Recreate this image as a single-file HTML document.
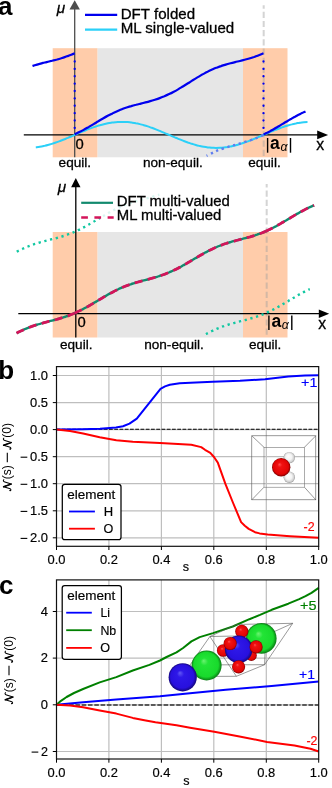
<!DOCTYPE html>
<html><head><meta charset="utf-8"><title>figure</title>
<style>html,body{margin:0;padding:0;background:#fff;}svg{display:block;will-change:transform;}text{white-space:pre;}</style>
</head><body>
<svg width="332" height="788" viewBox="0 0 332 788">
<rect x="97.4" y="48.2" width="145.6" height="109.1" fill="#e6e6e6"/>
<rect x="52.7" y="48.2" width="44.7" height="109.1" fill="#ffccaa"/>
<rect x="243" y="48.2" width="44.5" height="109.1" fill="#ffccaa"/>
<line x1="263.7" y1="5.2" x2="263.7" y2="157.3" stroke="#a0a0a0" stroke-opacity="0.45" stroke-width="2" stroke-dasharray="6.2 3" stroke-dashoffset="2.7"/>
<line x1="23.8" y1="134.9" x2="318" y2="134.9" stroke="#000" stroke-width="1.3"/>
<path d="M328.1 134.9L317.2 130.6L317.2 139.2Z" fill="#000"/>
<line x1="74.7" y1="8" x2="74.7" y2="157.3" stroke="#4d4d4d" stroke-width="1.3"/>
<path d="M74.7 0.3L69.5 9.5L79.9 9.5Z" fill="#4d4d4d"/>
<path d="M35.8 147.4C36.5 147.3 38.5 147.1 39.8 146.8C41.1 146.6 42.5 146.3 43.8 146.0C45.1 145.7 46.5 145.4 47.8 145.0C49.1 144.7 50.5 144.3 51.8 143.9C53.1 143.5 54.5 143.0 55.8 142.5C57.1 142.1 58.5 141.6 59.8 141.1C61.1 140.6 62.5 140.1 63.8 139.5C65.1 139.0 66.5 138.4 67.8 137.9C69.1 137.3 70.5 136.7 71.8 136.2C73.1 135.6 74.5 135.0 75.8 134.4C77.1 133.8 78.5 133.3 79.8 132.7C81.1 132.1 82.5 131.6 83.8 131.0C85.1 130.5 86.5 129.9 87.8 129.4C89.1 128.9 90.5 128.4 91.8 127.9C93.1 127.4 94.5 126.9 95.8 126.5C97.1 126.1 98.5 125.6 99.8 125.3C101.1 124.9 102.5 124.5 103.8 124.2C105.1 123.9 106.5 123.6 107.8 123.3C109.1 123.0 110.5 122.8 111.8 122.6C113.1 122.4 114.5 122.3 115.8 122.2C117.1 122.1 118.5 122.0 119.8 121.9C121.1 121.9 122.5 121.9 123.8 121.9C125.1 122.0 126.5 122.0 127.8 122.1C129.1 122.3 130.5 122.4 131.8 122.6C133.1 122.8 134.5 123.0 135.8 123.3C137.1 123.5 138.5 123.8 139.8 124.1C141.1 124.5 142.5 124.8 143.8 125.2C145.1 125.6 146.5 126.0 147.8 126.4C149.1 126.9 150.5 127.3 151.8 127.8C153.1 128.3 154.5 128.8 155.8 129.3C157.1 129.9 158.5 130.4 159.8 130.9C161.1 131.5 162.5 132.1 163.8 132.6C165.1 133.2 166.5 133.8 167.8 134.3C169.1 134.9 170.5 135.5 171.8 136.1C173.1 136.6 174.5 137.2 175.8 137.8C177.1 138.3 178.5 138.9 179.8 139.4C181.1 140.0 182.5 140.5 183.8 141.0C185.1 141.5 186.5 142.0 187.8 142.5C189.1 142.9 190.5 143.4 191.8 143.8C193.1 144.2 194.5 144.6 195.8 145.0C197.1 145.4 198.5 145.7 199.8 146.0C201.1 146.3 202.5 146.6 203.8 146.8C205.1 147.0 206.5 147.2 207.8 147.4C209.1 147.5 210.5 147.7 211.8 147.8C213.1 147.8 214.5 147.9 215.8 147.9C217.1 147.9 218.5 147.9 219.8 147.8C221.1 147.7 222.5 147.6 223.8 147.5C225.1 147.4 226.5 147.2 227.8 147.0C229.1 146.7 230.5 146.5 231.8 146.2C233.1 145.9 234.5 145.6 235.8 145.3C237.1 144.9 238.5 144.5 239.8 144.1C241.1 143.7 242.5 143.3 243.8 142.8C245.1 142.4 246.5 141.9 247.8 141.4C249.1 140.9 250.5 140.4 251.8 139.8C253.1 139.3 254.5 138.8 255.8 138.2C257.1 137.6 258.5 137.1 259.8 136.5C261.1 135.9 262.5 135.3 263.8 134.8C265.1 134.2 266.5 133.6 267.8 133.0C269.1 132.5 270.5 131.9 271.8 131.4C273.1 130.8 274.5 130.3 275.8 129.7C277.1 129.2 278.5 128.7 279.8 128.2C281.1 127.7 282.5 127.2 283.8 126.8C285.1 126.3 286.5 125.9 287.8 125.5C289.1 125.1 290.5 124.7 291.8 124.4C293.1 124.0 294.5 123.7 295.8 123.5C297.1 123.2 298.5 123.0 299.8 122.7C301.1 122.5 302.5 122.4 303.8 122.2C305.1 122.1 306.9 122.0 307.5 122.0" fill="none" stroke="#2bd0f8" stroke-width="2"/>
<path d="M206.6 155.8C207.7 155.3 210.9 153.6 213.0 152.6C215.1 151.6 216.2 150.9 219.0 149.9C221.8 148.9 226.5 147.4 230.0 146.3C233.5 145.2 236.7 144.5 240.0 143.5C243.3 142.5 247.2 141.2 250.0 140.3C252.8 139.4 254.8 138.7 257.0 137.8C259.2 136.9 262.4 135.5 263.5 135.0" fill="none" stroke="#5f7df0" stroke-width="2.4" stroke-dasharray="2.3 3.6" stroke-dashoffset="1.1"/>
<line x1="74.7" y1="61.4" x2="74.7" y2="134.9" stroke="#0000ee" stroke-width="2.3" stroke-dasharray="0.1 7.28" stroke-linecap="round"/>
<line x1="263.5" y1="61.4" x2="263.5" y2="134.9" stroke="#0000ee" stroke-width="2.3" stroke-dasharray="0.1 7.28" stroke-linecap="round"/>
<path d="M74.7 134.4C75.5 134.0 77.8 132.9 79.4 132.1C81.0 131.3 82.6 130.5 84.1 129.6C85.7 128.8 87.3 127.8 88.9 126.9C90.4 126.0 92.0 125.1 93.6 124.1C95.2 123.2 96.7 122.2 98.3 121.3C99.9 120.3 101.4 119.4 103.0 118.5C104.6 117.6 106.2 116.7 107.7 115.8C109.3 115.0 110.9 114.2 112.5 113.4C114.0 112.6 115.6 111.9 117.2 111.2C118.8 110.5 120.3 109.8 121.9 109.2C123.5 108.6 125.0 108.0 126.6 107.5C128.2 107.0 129.8 106.5 131.3 106.1C132.9 105.6 134.5 105.2 136.1 104.8C137.6 104.3 139.2 104.0 140.8 103.6C142.4 103.2 143.9 102.8 145.5 102.4C147.1 102.0 148.6 101.6 150.2 101.1C151.8 100.7 153.4 100.2 154.9 99.7C156.5 99.2 158.1 98.7 159.7 98.1C161.2 97.5 162.8 96.9 164.4 96.3C166.0 95.6 167.5 94.9 169.1 94.1C170.7 93.4 172.2 92.6 173.8 91.7C175.4 90.9 177.0 90.0 178.5 89.1C180.1 88.1 181.7 87.2 183.3 86.2C184.8 85.3 186.4 84.3 188.0 83.3C189.6 82.3 191.1 81.3 192.7 80.3C194.3 79.3 195.8 78.4 197.4 77.4C199.0 76.5 200.6 75.5 202.1 74.6C203.7 73.8 205.3 72.9 206.9 72.1C208.4 71.3 210.0 70.5 211.6 69.8C213.2 69.1 214.7 68.4 216.3 67.8C217.9 67.2 219.4 66.6 221.0 66.1C222.6 65.5 224.2 65.1 225.7 64.6C227.3 64.1 228.9 63.7 230.5 63.3C232.0 62.9 233.6 62.5 235.2 62.1C236.8 61.7 238.3 61.4 239.9 61.0C241.5 60.6 243.0 60.2 244.6 59.8C246.2 59.4 247.8 59.0 249.3 58.5C250.9 58.0 252.5 57.5 254.1 57.0C255.6 56.4 257.2 55.9 258.8 55.2C260.4 54.6 262.7 53.5 263.5 53.2" fill="none" stroke="#0000ee" stroke-width="2.2"/>
<path d="M32.5 66.0C33.1 65.8 34.8 65.2 36.0 64.9C37.2 64.5 38.4 64.2 39.5 63.9C40.7 63.5 41.9 63.2 43.0 62.9C44.2 62.6 45.4 62.4 46.6 62.1C47.7 61.8 48.9 61.5 50.1 61.2C51.3 61.0 52.4 60.7 53.6 60.4C54.8 60.1 55.9 59.8 57.1 59.5C58.3 59.1 59.5 58.8 60.6 58.5C61.8 58.1 63.0 57.8 64.1 57.4C65.3 57.0 66.5 56.6 67.7 56.1C68.8 55.7 70.0 55.2 71.2 54.7C72.4 54.3 74.1 53.5 74.7 53.2" fill="none" stroke="#0000ee" stroke-width="2.2"/>
<path d="M263.5 134.4C264.1 134.2 265.8 133.3 267.0 132.8C268.2 132.2 269.3 131.6 270.5 131.0C271.7 130.3 272.8 129.7 274.0 129.0C275.2 128.4 276.3 127.7 277.5 127.0C278.7 126.3 279.8 125.6 281.0 124.9C282.2 124.2 283.3 123.5 284.5 122.8C285.7 122.1 286.8 121.4 288.0 120.7C289.2 120.0 290.3 119.3 291.5 118.7C292.7 118.0 293.8 117.3 295.0 116.7C296.2 116.0 297.3 115.4 298.5 114.8C299.7 114.2 300.8 113.6 302.0 113.0C303.2 112.4 304.9 111.7 305.5 111.4" fill="none" stroke="#0000ee" stroke-width="2.2"/>
<line x1="85" y1="14.9" x2="117.2" y2="14.9" stroke="#0000ee" stroke-width="2.3"/>
<line x1="85" y1="29.7" x2="117.2" y2="29.7" stroke="#2bd0f8" stroke-width="2.3"/>
<text x="120.7" y="18.9" font-family="Liberation Sans, sans-serif" stroke="#000" stroke-width="0.3" font-size="15.1">DFT folded</text>
<text x="120.7" y="32.9" font-family="Liberation Sans, sans-serif" stroke="#000" stroke-width="0.3" font-size="15.1">ML single-valued</text>
<text x="56.8" y="13" font-family="Liberation Sans, sans-serif" stroke="#000" stroke-width="0.3" font-size="15.3" font-style="italic">μ</text>
<text x="75.6" y="149" font-family="Liberation Sans, sans-serif" stroke="#000" stroke-width="0.3" font-size="14.8">0</text>
<text x="316.2" y="149.8" font-family="Liberation Sans, sans-serif" stroke="#000" stroke-width="0.3" font-size="15.8">x</text>
<text x="58.6" y="167.4" font-family="Liberation Sans, sans-serif" stroke="#000" stroke-width="0.3" font-size="13.6">equil.</text>
<text x="143" y="167.4" font-family="Liberation Sans, sans-serif" stroke="#000" stroke-width="0.3" font-size="13.6">non-equil.</text>
<text x="248.2" y="167.4" font-family="Liberation Sans, sans-serif" stroke="#000" stroke-width="0.3" font-size="13.6">equil.</text>
<line x1="267.6" y1="138.0" x2="267.6" y2="152.7" stroke="#000" stroke-width="1.4"/>
<line x1="290.5" y1="138.0" x2="290.5" y2="152.7" stroke="#000" stroke-width="1.4"/>
<text x="270.1" y="149.2" font-family="Liberation Sans, sans-serif" font-size="17.5" font-weight="bold">a</text>
<text x="280.5" y="151.2" font-family="Liberation Sans, sans-serif" font-size="12.3" font-style="italic">α</text>
<rect x="97.4" y="232" width="145.6" height="105.5" fill="#e6e6e6"/>
<rect x="52.7" y="232" width="44.7" height="105.5" fill="#ffccaa"/>
<rect x="243" y="232" width="44.5" height="105.5" fill="#ffccaa"/>
<line x1="266.7" y1="184.1" x2="266.7" y2="337.5" stroke="#a0a0a0" stroke-opacity="0.45" stroke-width="2" stroke-dasharray="6.2 3" stroke-dashoffset="2.7"/>
<line x1="18.3" y1="313.7" x2="320" y2="313.7" stroke="#000" stroke-width="1.3"/>
<path d="M329.2 313.7L318.8 309.4L318.8 318.0Z" fill="#000"/>
<line x1="75.8" y1="186" x2="75.8" y2="337.5" stroke="#000" stroke-width="1.3"/>
<path d="M75.8 178.1L71.1 187.3L80.5 187.3Z" fill="#000"/>
<path d="M16.8 251.7C17.1 251.5 17.8 251.2 18.5 250.8C19.1 250.5 20.1 250.0 20.9 249.7C21.7 249.3 22.5 248.9 23.2 248.5C24.0 248.2 24.8 247.8 25.6 247.5C26.4 247.1 27.2 246.8 28.0 246.5C28.8 246.2 29.6 245.9 30.4 245.6C31.2 245.3 32.0 245.0 32.8 244.7C33.6 244.4 34.4 244.1 35.2 243.9C36.0 243.6 36.8 243.4 37.6 243.1C38.4 242.9 39.2 242.6 40.0 242.4C40.8 242.2 41.6 242.0 42.4 241.7C43.2 241.5 44.0 241.3 44.7 241.1C45.5 240.9 46.3 240.7 47.1 240.5C47.9 240.3 48.7 240.1 49.5 239.8C50.3 239.6 51.1 239.4 51.9 239.2C52.7 239.0 53.5 238.8 54.3 238.6C55.1 238.4 55.9 238.2 56.7 238.0C57.5 237.8 58.3 237.5 59.1 237.3C59.9 237.1 60.7 236.8 61.5 236.6C62.3 236.4 63.1 236.1 63.9 235.9C64.7 235.6 65.4 235.3 66.2 235.0C67.0 234.8 67.8 234.5 68.6 234.2C69.4 233.9 70.2 233.6 71.0 233.3C71.8 233.0 72.6 232.6 73.4 232.3C74.2 232.0 75.0 231.6 75.8 231.2C76.6 230.9 77.4 230.5 78.2 230.1C79.0 229.8 79.8 229.4 80.6 229.0C81.4 228.6 82.2 228.2 83.0 227.7C83.8 227.3 84.6 226.9 85.4 226.5C86.2 226.0 86.9 225.6 87.7 225.1C88.5 224.7 89.3 224.2 90.1 223.8C90.9 223.3 91.7 222.8 92.5 222.4C93.3 221.9 94.1 221.4 94.9 221.0C95.7 220.5 96.5 220.0 97.3 219.5C98.1 219.0 99.5 218.2 100.0 217.9" fill="none" stroke="#12c8a2" stroke-width="2.4" stroke-dasharray="2.3 3.6"/>
<path d="M103.0 216.1C103.2 216.0 103.8 215.6 104.5 215.3C105.1 214.9 106.1 214.3 106.9 213.9C107.7 213.4 108.4 213.0 109.2 212.5C110.0 212.1 110.8 211.7 111.6 211.2C112.4 210.8 113.2 210.4 114.0 210.0C114.8 209.6 115.6 209.2 116.4 208.8C117.2 208.4 118.0 208.0 118.8 207.6C119.6 207.3 120.4 206.9 121.2 206.6C122.0 206.2 122.8 205.9 123.6 205.6C124.4 205.2 125.2 204.9 126.0 204.6C126.8 204.3 127.6 204.0 128.4 203.7C129.1 203.4 129.9 203.2 130.7 202.9C131.5 202.6 132.3 202.4 133.1 202.1C133.9 201.9 134.7 201.6 135.5 201.4C136.3 201.1 137.1 200.9 137.9 200.7C138.7 200.5 139.5 200.2 140.3 200.0C141.1 199.8 141.9 199.6 142.7 199.4C143.5 199.2 144.3 199.0 145.1 198.7C145.9 198.5 146.7 198.3 147.5 198.1C148.3 197.9 149.1 197.7 149.9 197.5C150.6 197.3 151.4 197.1 152.2 196.8C153.0 196.6 153.8 196.4 154.6 196.1C155.4 195.9 156.2 195.7 157.0 195.4C157.8 195.2 159.0 194.8 159.4 194.7" fill="none" stroke="#12c8a2" stroke-width="2.4" stroke-dasharray="2.3 3.6" opacity="0.16"/>
<path d="M205.9 334.1C206.1 334.0 206.6 333.8 207.2 333.4C207.8 333.1 208.8 332.6 209.6 332.2C210.4 331.8 211.2 331.4 212.0 331.0C212.8 330.6 213.6 330.3 214.3 329.9C215.1 329.5 215.9 329.2 216.7 328.8C217.5 328.5 218.3 328.2 219.1 327.9C219.9 327.5 220.7 327.2 221.5 326.9C222.3 326.6 223.1 326.3 223.9 326.1C224.7 325.8 225.5 325.5 226.3 325.3C227.1 325.0 227.9 324.7 228.7 324.5C229.5 324.2 230.3 324.0 231.1 323.8C231.9 323.5 232.7 323.3 233.5 323.1C234.3 322.9 235.0 322.7 235.8 322.5C236.6 322.2 237.4 322.0 238.2 321.8C239.0 321.6 239.8 321.4 240.6 321.2C241.4 321.0 242.2 320.8 243.0 320.6C243.8 320.4 244.6 320.2 245.4 320.0C246.2 319.8 247.0 319.6 247.8 319.3C248.6 319.1 249.4 318.9 250.2 318.7C251.0 318.4 251.8 318.2 252.6 318.0C253.4 317.7 254.2 317.5 255.0 317.2C255.8 317.0 256.5 316.7 257.3 316.4C258.1 316.1 258.9 315.9 259.7 315.6C260.5 315.3 261.3 315.0 262.1 314.6C262.9 314.3 263.7 314.0 264.5 313.7C265.3 313.3 266.1 313.0 266.9 312.6C267.7 312.3 268.5 311.9 269.3 311.5C270.1 311.1 270.9 310.7 271.7 310.3C272.5 309.9 273.3 309.5 274.1 309.1C274.9 308.7 275.7 308.3 276.5 307.8C277.3 307.4 278.0 307.0 278.8 306.5C279.6 306.1 280.4 305.6 281.2 305.1C282.0 304.7 282.8 304.2 283.6 303.7C284.4 303.3 285.2 302.8 286.0 302.3C286.8 301.8 287.6 301.4 288.4 300.9C289.2 300.4 290.0 299.9 290.8 299.5C291.6 299.0 292.4 298.5 293.2 298.0C294.0 297.6 294.8 297.1 295.6 296.6C296.4 296.2 297.2 295.7 298.0 295.2C298.8 294.8 299.5 294.3 300.3 293.9C301.1 293.5 301.9 293.0 302.7 292.6C303.5 292.2 304.3 291.8 305.1 291.3C305.9 290.9 306.7 290.5 307.5 290.1C308.3 289.8 309.4 289.2 309.8 289.1" fill="none" stroke="#12c8a2" stroke-width="2.4" stroke-dasharray="2.3 3.6"/>
<path d="M16.6 333.2C16.9 333.0 17.8 332.6 18.5 332.2C19.2 331.8 20.1 331.4 20.9 331.0C21.7 330.6 22.5 330.3 23.2 329.9C24.0 329.5 24.8 329.2 25.6 328.8C26.4 328.5 27.2 328.2 28.0 327.9C28.8 327.5 29.6 327.2 30.4 326.9C31.2 326.6 32.0 326.3 32.8 326.1C33.6 325.8 34.4 325.5 35.2 325.3C36.0 325.0 36.8 324.7 37.6 324.5C38.4 324.2 39.2 324.0 40.0 323.8C40.8 323.5 41.6 323.3 42.4 323.1C43.2 322.9 44.0 322.7 44.7 322.5C45.5 322.2 46.3 322.0 47.1 321.8C47.9 321.6 48.7 321.4 49.5 321.2C50.3 321.0 51.1 320.8 51.9 320.6C52.7 320.4 53.5 320.2 54.3 320.0C55.1 319.8 55.9 319.6 56.7 319.3C57.5 319.1 58.3 318.9 59.1 318.7C59.9 318.4 60.7 318.2 61.5 318.0C62.3 317.7 63.1 317.5 63.9 317.2C64.7 317.0 65.4 316.7 66.2 316.4C67.0 316.1 67.8 315.9 68.6 315.6C69.4 315.3 70.2 315.0 71.0 314.6C71.8 314.3 72.6 314.0 73.4 313.7C74.2 313.3 75.0 313.0 75.8 312.6C76.6 312.3 77.4 311.9 78.2 311.5C79.0 311.1 79.8 310.7 80.6 310.3C81.4 309.9 82.2 309.5 83.0 309.1C83.8 308.7 84.6 308.3 85.4 307.8C86.2 307.4 86.9 307.0 87.7 306.5C88.5 306.1 89.3 305.6 90.1 305.1C90.9 304.7 91.7 304.2 92.5 303.7C93.3 303.3 94.1 302.8 94.9 302.3C95.7 301.8 96.5 301.4 97.3 300.9C98.1 300.4 98.9 299.9 99.7 299.5C100.5 299.0 101.3 298.5 102.1 298.0C102.9 297.6 103.7 297.1 104.5 296.6C105.3 296.2 106.1 295.7 106.9 295.2C107.7 294.8 108.4 294.3 109.2 293.9C110.0 293.5 110.8 293.0 111.6 292.6C112.4 292.2 113.2 291.8 114.0 291.3C114.8 290.9 115.6 290.5 116.4 290.1C117.2 289.8 118.0 289.4 118.8 289.0C119.6 288.6 120.4 288.3 121.2 287.9C122.0 287.6 122.8 287.2 123.6 286.9C124.4 286.6 125.2 286.3 126.0 286.0C126.8 285.7 127.6 285.4 128.4 285.1C129.1 284.8 129.9 284.5 130.7 284.3C131.5 284.0 132.3 283.7 133.1 283.5C133.9 283.2 134.7 283.0 135.5 282.7C136.3 282.5 137.1 282.3 137.9 282.0C138.7 281.8 139.5 281.6 140.3 281.4C141.1 281.2 141.9 281.0 142.7 280.7C143.5 280.5 144.3 280.3 145.1 280.1C145.9 279.9 146.7 279.7 147.5 279.5C148.3 279.3 149.1 279.1 149.9 278.9C150.6 278.6 151.4 278.4 152.2 278.2C153.0 278.0 153.8 277.8 154.6 277.5C155.4 277.3 156.2 277.0 157.0 276.8C157.8 276.6 158.6 276.3 159.4 276.0C160.2 275.8 161.0 275.5 161.8 275.2C162.6 275.0 163.4 274.7 164.2 274.4C165.0 274.1 165.8 273.8 166.6 273.5C167.4 273.1 168.2 272.8 169.0 272.5C169.8 272.1 170.6 271.8 171.4 271.4C172.1 271.1 172.9 270.7 173.7 270.3C174.5 269.9 175.3 269.5 176.1 269.1C176.9 268.8 177.7 268.3 178.5 267.9C179.3 267.5 180.1 267.1 180.9 266.7C181.7 266.2 182.5 265.8 183.3 265.3C184.1 264.9 184.9 264.4 185.7 264.0C186.5 263.5 187.3 263.1 188.1 262.6C188.9 262.1 189.7 261.6 190.5 261.2C191.3 260.7 192.1 260.2 192.8 259.8C193.6 259.3 194.4 258.8 195.2 258.3C196.0 257.9 196.8 257.4 197.6 256.9C198.4 256.5 199.2 256.0 200.0 255.5C200.8 255.1 201.6 254.6 202.4 254.2C203.2 253.7 204.0 253.3 204.8 252.8C205.6 252.4 206.4 252.0 207.2 251.6C208.0 251.1 208.8 250.7 209.6 250.3C210.4 249.9 211.2 249.5 212.0 249.2C212.8 248.8 213.6 248.4 214.3 248.0C215.1 247.7 215.9 247.3 216.7 247.0C217.5 246.6 218.3 246.3 219.1 246.0C219.9 245.7 220.7 245.4 221.5 245.1C222.3 244.8 223.1 244.5 223.9 244.2C224.7 243.9 225.5 243.6 226.3 243.4C227.1 243.1 227.9 242.9 228.7 242.6C229.5 242.4 230.3 242.1 231.1 241.9C231.9 241.7 232.7 241.5 233.5 241.2C234.3 241.0 235.0 240.8 235.8 240.6C236.6 240.4 237.4 240.2 238.2 240.0C239.0 239.8 239.8 239.6 240.6 239.3C241.4 239.1 242.2 238.9 243.0 238.7C243.8 238.5 244.6 238.3 245.4 238.1C246.2 237.9 247.0 237.7 247.8 237.5C248.6 237.3 249.4 237.0 250.2 236.8C251.0 236.6 251.8 236.3 252.6 236.1C253.4 235.9 254.2 235.6 255.0 235.4C255.8 235.1 256.5 234.8 257.3 234.5C258.1 234.3 258.9 234.0 259.7 233.7C260.5 233.4 261.3 233.1 262.1 232.8C262.9 232.5 263.7 232.1 264.5 231.8C265.3 231.5 266.1 231.1 266.9 230.8C267.7 230.4 268.5 230.0 269.3 229.6C270.1 229.3 270.9 228.9 271.7 228.5C272.5 228.1 273.3 227.7 274.1 227.2C274.9 226.8 275.7 226.4 276.5 226.0C277.3 225.5 278.0 225.1 278.8 224.6C279.6 224.2 280.4 223.7 281.2 223.3C282.0 222.8 282.8 222.3 283.6 221.9C284.4 221.4 285.2 220.9 286.0 220.5C286.8 220.0 287.6 219.5 288.4 219.0C289.2 218.5 290.0 218.1 290.8 217.6C291.6 217.1 292.4 216.6 293.2 216.2C294.0 215.7 294.8 215.2 295.6 214.8C296.4 214.3 297.2 213.8 298.0 213.4C298.8 212.9 299.5 212.5 300.3 212.0C301.1 211.6 301.9 211.2 302.7 210.7C303.5 210.3 304.3 209.9 305.1 209.5C305.9 209.1 306.7 208.7 307.5 208.3C308.3 207.9 308.8 207.6 309.9 207.1C311.0 206.6 313.4 205.6 314.1 205.3" fill="none" stroke="#128a6e" stroke-width="2.4"/>
<path d="M16.6 333.2C17.1 332.9 18.6 332.1 19.7 331.6C20.7 331.1 21.7 330.6 22.7 330.2C23.7 329.7 24.7 329.2 25.8 328.8C26.8 328.4 27.8 327.9 28.8 327.5C29.8 327.1 30.8 326.8 31.9 326.4C32.9 326.0 33.9 325.7 34.9 325.3C35.9 325.0 37.0 324.7 38.0 324.4C39.0 324.1 40.0 323.8 41.0 323.5C42.0 323.2 43.1 322.9 44.1 322.6C45.1 322.4 46.1 322.1 47.1 321.8C48.1 321.6 49.2 321.3 50.2 321.1C51.2 320.8 52.2 320.5 53.2 320.3C54.2 320.0 55.3 319.7 56.3 319.5C57.3 319.2 58.3 318.9 59.3 318.6C60.4 318.3 61.4 318.0 62.4 317.7C63.4 317.4 64.4 317.0 65.4 316.7C66.5 316.3 67.5 316.0 68.5 315.6C69.5 315.2 70.5 314.8 71.5 314.4C72.6 314.0 74.1 313.4 74.6 313.2" fill="none" stroke="#d4145a" stroke-width="2.8" stroke-dasharray="8 5.5"/>
<path d="M74.6 313.2C75.1 312.9 76.6 312.3 77.6 311.8C78.6 311.3 79.6 310.8 80.7 310.3C81.7 309.8 82.7 309.3 83.7 308.7C84.7 308.2 85.7 307.6 86.7 307.1C87.7 306.5 88.7 305.9 89.7 305.4C90.8 304.8 91.8 304.2 92.8 303.6C93.8 303.0 94.8 302.4 95.8 301.8C96.8 301.2 97.8 300.6 98.8 300.0C99.8 299.4 100.8 298.8 101.9 298.2C102.9 297.6 103.9 297.0 104.9 296.4C105.9 295.8 106.9 295.2 107.9 294.6C108.9 294.1 109.9 293.5 110.9 293.0C112.0 292.4 113.0 291.9 114.0 291.4C115.0 290.9 116.0 290.3 117.0 289.9C118.0 289.4 119.0 288.9 120.0 288.4C121.0 288.0 122.0 287.6 123.1 287.1C124.1 286.7 125.1 286.3 126.1 285.9C127.1 285.5 128.1 285.2 129.1 284.8C130.1 284.5 131.1 284.1 132.1 283.8C133.2 283.5 134.2 283.2 135.2 282.8C136.2 282.5 137.2 282.3 138.2 282.0C139.2 281.7 140.2 281.4 141.2 281.1C142.2 280.9 143.2 280.6 144.3 280.3C145.3 280.1 146.3 279.8 147.3 279.5C148.3 279.3 149.3 279.0 150.3 278.7C151.3 278.5 152.3 278.2 153.3 277.9C154.4 277.6 155.4 277.3 156.4 277.0C157.4 276.7 158.4 276.4 159.4 276.0C160.4 275.7 161.4 275.4 162.4 275.0C163.4 274.7 164.4 274.3 165.5 273.9C166.5 273.5 167.5 273.1 168.5 272.7C169.5 272.2 170.5 271.8 171.5 271.4C172.5 270.9 173.5 270.4 174.5 269.9C175.6 269.4 176.6 268.9 177.6 268.4C178.6 267.9 179.6 267.4 180.6 266.8C181.6 266.3 182.6 265.7 183.6 265.1C184.6 264.6 185.6 264.0 186.7 263.4C187.7 262.8 188.7 262.2 189.7 261.6C190.7 261.0 191.7 260.4 192.7 259.8C193.7 259.2 194.7 258.6 195.7 258.0C196.8 257.4 197.8 256.8 198.8 256.3C199.8 255.7 200.8 255.1 201.8 254.5C202.8 253.9 203.8 253.4 204.8 252.8C205.8 252.3 206.8 251.7 207.9 251.2C208.9 250.7 209.9 250.2 210.9 249.7C211.9 249.2 212.9 248.7 213.9 248.2C214.9 247.8 215.9 247.3 216.9 246.9C218.0 246.5 219.0 246.0 220.0 245.7C221.0 245.3 222.0 244.9 223.0 244.5C224.0 244.1 225.0 243.8 226.0 243.5C227.0 243.1 228.0 242.8 229.1 242.5C230.1 242.2 231.1 241.9 232.1 241.6C233.1 241.3 234.1 241.1 235.1 240.8C236.1 240.5 237.1 240.2 238.1 240.0C239.2 239.7 240.2 239.5 241.2 239.2C242.2 238.9 243.2 238.7 244.2 238.4C245.2 238.2 246.2 237.9 247.2 237.6C248.2 237.4 249.2 237.1 250.3 236.8C251.3 236.5 252.3 236.2 253.3 235.9C254.3 235.6 255.3 235.2 256.3 234.9C257.3 234.6 258.3 234.2 259.3 233.8C260.4 233.5 261.4 233.1 262.4 232.7C263.4 232.3 264.9 231.6 265.4 231.4" fill="none" stroke="#d4145a" stroke-width="2.8" stroke-dasharray="8 5.5"/>
<path d="M265.4 231.4C265.9 231.2 267.4 230.5 268.4 230.0C269.5 229.6 270.5 229.1 271.5 228.6C272.5 228.1 273.5 227.5 274.5 227.0C275.5 226.5 276.6 225.9 277.6 225.3C278.6 224.8 279.6 224.2 280.6 223.6C281.6 223.0 282.6 222.4 283.7 221.8C284.7 221.2 285.7 220.6 286.7 220.0C287.7 219.4 288.7 218.8 289.8 218.2C290.8 217.6 291.8 217.0 292.8 216.4C293.8 215.8 294.8 215.2 295.8 214.6C296.9 214.0 297.9 213.4 298.9 212.8C299.9 212.3 300.9 211.7 301.9 211.2C302.9 210.6 304.0 210.1 305.0 209.6C306.0 209.0 307.0 208.5 308.0 208.0C309.0 207.5 310.0 207.1 311.1 206.6C312.1 206.2 313.6 205.5 314.1 205.3" fill="none" stroke="#d4145a" stroke-width="2.8" stroke-dasharray="8 5.5"/>
<line x1="81.2" y1="202.8" x2="113" y2="202.8" stroke="#128a6e" stroke-width="2.2"/>
<line x1="81.2" y1="217.5" x2="113.7" y2="217.5" stroke="#d4145a" stroke-width="2.4" stroke-dasharray="6.7 6.5"/>
<text x="116.8" y="205.6" font-family="Liberation Sans, sans-serif" stroke="#000" stroke-width="0.3" font-size="14.9">DFT multi-valued</text>
<text x="116.8" y="219.9" font-family="Liberation Sans, sans-serif" stroke="#000" stroke-width="0.3" font-size="14.9">ML multi-valued</text>
<text x="57.8" y="191.8" font-family="Liberation Sans, sans-serif" stroke="#000" stroke-width="0.3" font-size="15.3" font-style="italic">μ</text>
<text x="77.6" y="327.3" font-family="Liberation Sans, sans-serif" stroke="#000" stroke-width="0.3" font-size="14.8">0</text>
<text x="318.2" y="329.3" font-family="Liberation Sans, sans-serif" stroke="#000" stroke-width="0.3" font-size="15.8">x</text>
<text x="60.0" y="348.7" font-family="Liberation Sans, sans-serif" stroke="#000" stroke-width="0.3" font-size="13.6">equil.</text>
<text x="144.2" y="348.7" font-family="Liberation Sans, sans-serif" stroke="#000" stroke-width="0.3" font-size="13.6">non-equil.</text>
<text x="248.9" y="348.7" font-family="Liberation Sans, sans-serif" stroke="#000" stroke-width="0.3" font-size="13.6">equil.</text>
<line x1="268.9" y1="315.4" x2="268.9" y2="330.1" stroke="#000" stroke-width="1.4"/>
<line x1="291.8" y1="315.4" x2="291.8" y2="330.1" stroke="#000" stroke-width="1.4"/>
<text x="271.4" y="326.6" font-family="Liberation Sans, sans-serif" font-size="17.5" font-weight="bold">a</text>
<text x="281.8" y="328.6" font-family="Liberation Sans, sans-serif" font-size="12.3" font-style="italic">α</text>
<text x="-1.9" y="15.1" font-family="Liberation Sans, sans-serif" font-size="26" font-weight="bold">a</text>
<text x="-1.7" y="379" font-family="Liberation Sans, sans-serif" font-size="26" font-weight="bold">b</text>
<text x="-1.0" y="594" font-family="Liberation Sans, sans-serif" font-size="26" font-weight="bold">c</text>
<line x1="108.9" y1="366.6" x2="108.9" y2="546.3" stroke="#bebebe" stroke-width="1.2"/>
<line x1="161.4" y1="366.6" x2="161.4" y2="546.3" stroke="#bebebe" stroke-width="1.2"/>
<line x1="213.8" y1="366.6" x2="213.8" y2="546.3" stroke="#bebebe" stroke-width="1.2"/>
<line x1="266.3" y1="366.6" x2="266.3" y2="546.3" stroke="#bebebe" stroke-width="1.2"/>
<line x1="56.5" y1="375.5" x2="318.7" y2="375.5" stroke="#bebebe" stroke-width="1.2"/>
<line x1="56.5" y1="402.6" x2="318.7" y2="402.6" stroke="#bebebe" stroke-width="1.2"/>
<line x1="56.5" y1="429.6" x2="318.7" y2="429.6" stroke="#bebebe" stroke-width="1.2"/>
<line x1="56.5" y1="456.7" x2="318.7" y2="456.7" stroke="#bebebe" stroke-width="1.2"/>
<line x1="56.5" y1="483.7" x2="318.7" y2="483.7" stroke="#bebebe" stroke-width="1.2"/>
<line x1="56.5" y1="510.8" x2="318.7" y2="510.8" stroke="#bebebe" stroke-width="1.2"/>
<line x1="56.5" y1="537.8" x2="318.7" y2="537.8" stroke="#bebebe" stroke-width="1.2"/>
<line x1="56.5" y1="429.3" x2="318.7" y2="429.3" stroke="#000" stroke-width="1.1" stroke-dasharray="3.75 1.5"/>
<path d="M56.5 429.6L83.0 429.3L100.0 428.8L116.0 427.5L123.0 426.2L129.5 423.6L136.8 418.6L160.5 388.8L165.0 386.4L169.8 384.8L179.7 383.2L196.0 382.5L212.8 381.8L240.0 380.8L265.0 379.2L288.3 376.5L305.0 375.5L318.7 375.2" fill="none" stroke="#0000ff" stroke-width="2" stroke-linejoin="round"/>
<path d="M56.5 429.6L70.0 431.0L83.1 433.5L99.7 437.2L116.3 440.2L132.8 441.8L160.0 443.1L178.0 443.9L191.3 444.8L201.2 447.1L205.0 449.8L210.3 452.8L214.0 457.0L217.8 462.6L225.3 483.7L232.9 502.5L241.1 522.1L244.8 525.8L248.7 528.9L255.0 532.2L259.6 533.4L267.6 534.6L290.0 536.2L318.7 537.8" fill="none" stroke="#ff0000" stroke-width="2" stroke-linejoin="round"/>
<rect x="56.5" y="366.6" width="262.2" height="179.7" fill="none" stroke="#111" stroke-width="1.2"/>
<line x1="56.5" y1="546.3" x2="56.5" y2="550.0" stroke="#000" stroke-width="1"/>
<text x="56.5" y="564.1" font-family="Liberation Sans, sans-serif" font-size="13.2" text-anchor="middle" fill="#000" stroke="#000" stroke-width="0.18" textLength="18.0" lengthAdjust="spacingAndGlyphs">0.0</text>
<line x1="108.9" y1="546.3" x2="108.9" y2="550.0" stroke="#000" stroke-width="1"/>
<text x="108.9" y="564.1" font-family="Liberation Sans, sans-serif" font-size="13.2" text-anchor="middle" fill="#000" stroke="#000" stroke-width="0.18" textLength="18.0" lengthAdjust="spacingAndGlyphs">0.2</text>
<line x1="161.4" y1="546.3" x2="161.4" y2="550.0" stroke="#000" stroke-width="1"/>
<text x="161.4" y="564.1" font-family="Liberation Sans, sans-serif" font-size="13.2" text-anchor="middle" fill="#000" stroke="#000" stroke-width="0.18" textLength="18.0" lengthAdjust="spacingAndGlyphs">0.4</text>
<line x1="213.8" y1="546.3" x2="213.8" y2="550.0" stroke="#000" stroke-width="1"/>
<text x="213.8" y="564.1" font-family="Liberation Sans, sans-serif" font-size="13.2" text-anchor="middle" fill="#000" stroke="#000" stroke-width="0.18" textLength="18.0" lengthAdjust="spacingAndGlyphs">0.6</text>
<line x1="266.3" y1="546.3" x2="266.3" y2="550.0" stroke="#000" stroke-width="1"/>
<text x="266.3" y="564.1" font-family="Liberation Sans, sans-serif" font-size="13.2" text-anchor="middle" fill="#000" stroke="#000" stroke-width="0.18" textLength="18.0" lengthAdjust="spacingAndGlyphs">0.8</text>
<line x1="318.7" y1="546.3" x2="318.7" y2="550.0" stroke="#000" stroke-width="1"/>
<text x="318.7" y="564.1" font-family="Liberation Sans, sans-serif" font-size="13.2" text-anchor="middle" fill="#000" stroke="#000" stroke-width="0.18" textLength="18.0" lengthAdjust="spacingAndGlyphs">1.0</text>
<line x1="52.8" y1="375.5" x2="56.5" y2="375.5" stroke="#000" stroke-width="1"/>
<text x="48.0" y="379.7" font-family="Liberation Sans, sans-serif" font-size="13.2" text-anchor="end" fill="#000" stroke="#000" stroke-width="0.18" textLength="18.0" lengthAdjust="spacingAndGlyphs">1.0</text>
<line x1="52.8" y1="402.6" x2="56.5" y2="402.6" stroke="#000" stroke-width="1"/>
<text x="48.0" y="406.8" font-family="Liberation Sans, sans-serif" font-size="13.2" text-anchor="end" fill="#000" stroke="#000" stroke-width="0.18" textLength="18.0" lengthAdjust="spacingAndGlyphs">0.5</text>
<line x1="52.8" y1="429.6" x2="56.5" y2="429.6" stroke="#000" stroke-width="1"/>
<text x="48.0" y="433.8" font-family="Liberation Sans, sans-serif" font-size="13.2" text-anchor="end" fill="#000" stroke="#000" stroke-width="0.18" textLength="18.0" lengthAdjust="spacingAndGlyphs">0.0</text>
<line x1="52.8" y1="456.7" x2="56.5" y2="456.7" stroke="#000" stroke-width="1"/>
<line x1="20.6" y1="457.2" x2="27.3" y2="457.2" stroke="#000" stroke-width="1.1"/>
<text x="48.0" y="460.9" font-family="Liberation Sans, sans-serif" font-size="13.2" text-anchor="end" fill="#000" stroke="#000" stroke-width="0.18" textLength="18.0" lengthAdjust="spacingAndGlyphs">0.5</text>
<line x1="52.8" y1="483.7" x2="56.5" y2="483.7" stroke="#000" stroke-width="1"/>
<line x1="20.6" y1="484.3" x2="27.3" y2="484.3" stroke="#000" stroke-width="1.1"/>
<text x="48.0" y="487.9" font-family="Liberation Sans, sans-serif" font-size="13.2" text-anchor="end" fill="#000" stroke="#000" stroke-width="0.18" textLength="18.0" lengthAdjust="spacingAndGlyphs">1.0</text>
<line x1="52.8" y1="510.8" x2="56.5" y2="510.8" stroke="#000" stroke-width="1"/>
<line x1="20.6" y1="511.4" x2="27.3" y2="511.4" stroke="#000" stroke-width="1.1"/>
<text x="48.0" y="515.0" font-family="Liberation Sans, sans-serif" font-size="13.2" text-anchor="end" fill="#000" stroke="#000" stroke-width="0.18" textLength="18.0" lengthAdjust="spacingAndGlyphs">1.5</text>
<line x1="52.8" y1="537.8" x2="56.5" y2="537.8" stroke="#000" stroke-width="1"/>
<line x1="20.6" y1="538.4" x2="27.3" y2="538.4" stroke="#000" stroke-width="1.1"/>
<text x="48.0" y="542.0" font-family="Liberation Sans, sans-serif" font-size="13.2" text-anchor="end" fill="#000" stroke="#000" stroke-width="0.18" textLength="18.0" lengthAdjust="spacingAndGlyphs">2.0</text>
<text x="317.6" y="387.2" font-family="Liberation Sans, sans-serif" font-size="13.2" text-anchor="end" fill="#0000ff" stroke="#0000ff" stroke-width="0.18" textLength="16.5" lengthAdjust="spacingAndGlyphs">+1</text>
<text x="314.6" y="531.0" font-family="Liberation Sans, sans-serif" font-size="13.2" text-anchor="end" fill="#ff0000" stroke="#ff0000" stroke-width="0.18" textLength="11.0" lengthAdjust="spacingAndGlyphs">-2</text>
<text x="186.0" y="570.6" font-family="Liberation Sans, sans-serif" font-size="13.2" text-anchor="middle" fill="#000" stroke="#000" stroke-width="0.18" textLength="6.3" lengthAdjust="spacingAndGlyphs">s</text>
<g transform="translate(11.3 491.0) rotate(-90)">
<path d="M0.4 -1.1C0.9 0.1 2.0 -0.2 2.5 -1.9L4.2 -7.7L6.9 -0.1L9.0 -6.4C9.5 -7.9 10.5 -8.4 11.3 -7.5" fill="none" stroke="#000" stroke-width="1.05" stroke-linecap="round" stroke-linejoin="round"/><path d="M4.2 -7.7L6.9 -0.1" fill="none" stroke="#000" stroke-width="1.5" stroke-linecap="round"/><circle cx="0.5" cy="-1.2" r="0.75" fill="#000"/>
<text x="11.7" y="0" font-family="Liberation Sans, sans-serif" font-size="13" textLength="14.0" lengthAdjust="spacingAndGlyphs">(s)</text>
<line x1="28.8" y1="-4.0" x2="38.2" y2="-4.0" stroke="#000" stroke-width="1.1"/>
<g transform="translate(41.5 0)"><path d="M0.4 -1.1C0.9 0.1 2.0 -0.2 2.5 -1.9L4.2 -7.7L6.9 -0.1L9.0 -6.4C9.5 -7.9 10.5 -8.4 11.3 -7.5" fill="none" stroke="#000" stroke-width="1.05" stroke-linecap="round" stroke-linejoin="round"/><path d="M4.2 -7.7L6.9 -0.1" fill="none" stroke="#000" stroke-width="1.5" stroke-linecap="round"/><circle cx="0.5" cy="-1.2" r="0.75" fill="#000"/></g>
<text x="53.2" y="0" font-family="Liberation Sans, sans-serif" font-size="13" textLength="15.0" lengthAdjust="spacingAndGlyphs">(0)</text>
</g>
<rect x="62.3" y="484.3" width="58.7" height="55.4" rx="2.5" fill="#fff" stroke="#000" stroke-width="1.25"/>
<text x="67.3" y="498.9" font-family="Liberation Sans, sans-serif" font-size="13.5" text-anchor="start" fill="#000" stroke="#000" stroke-width="0.18" textLength="48.0" lengthAdjust="spacingAndGlyphs">element</text>
<line x1="69" y1="511.5" x2="94.9" y2="511.5" stroke="#0000ff" stroke-width="1.8"/>
<line x1="69" y1="528.7" x2="94.9" y2="528.7" stroke="#ff0000" stroke-width="1.8"/>
<text x="103.8" y="515.6" font-family="Liberation Sans, sans-serif" font-size="13.2" text-anchor="start" fill="#000" stroke="#000" stroke-width="0.18" textLength="9.4" lengthAdjust="spacingAndGlyphs">H</text>
<text x="103.6" y="533.2" font-family="Liberation Sans, sans-serif" font-size="13.2" text-anchor="start" fill="#000" stroke="#000" stroke-width="0.18" textLength="9.8" lengthAdjust="spacingAndGlyphs">O</text>
<g stroke="#555" stroke-width="0.6" fill="none">
<rect x="251.8" y="435.8" width="64" height="64"/>
<rect x="264" y="447.3" width="40.4" height="39.9" stroke="#6a6a6a" stroke-width="0.55"/>
<path d="M251.8 435.8L264 447.3M315.8 435.8L304.4 447.3M251.8 499.8L264 487.2M315.8 499.8L304.4 487.2"/>
</g>
<defs>
<radialGradient id="gw" cx="0.5" cy="0.5" r="0.5" fx="0.4" fy="0.36"><stop offset="0" stop-color="#ffffff"/><stop offset="0.55" stop-color="#f4f4f4"/><stop offset="0.85" stop-color="#cfcfcf"/><stop offset="1" stop-color="#9a9a9a"/></radialGradient>
<radialGradient id="gr" cx="0.5" cy="0.5" r="0.5" fx="0.4" fy="0.34"><stop offset="0" stop-color="#ff5050"/><stop offset="0.25" stop-color="#f01212"/><stop offset="0.82" stop-color="#e20404"/><stop offset="1" stop-color="#7e0000"/></radialGradient>
<radialGradient id="gb" cx="0.5" cy="0.5" r="0.5" fx="0.4" fy="0.34"><stop offset="0" stop-color="#6258f4"/><stop offset="0.25" stop-color="#2e18e8"/><stop offset="0.82" stop-color="#2810de"/><stop offset="1" stop-color="#14067a"/></radialGradient>
<radialGradient id="gg" cx="0.5" cy="0.5" r="0.5" fx="0.4" fy="0.34"><stop offset="0" stop-color="#6cf272"/><stop offset="0.25" stop-color="#22e436"/><stop offset="0.82" stop-color="#18da2c"/><stop offset="1" stop-color="#0a7a14"/></radialGradient>
</defs>
<circle cx="289.3" cy="457.6" r="5.7" fill="url(#gw)"/>
<circle cx="289.3" cy="477.2" r="5.7" fill="url(#gw)"/>
<circle cx="281.2" cy="467.2" r="9.2" fill="url(#gr)"/>
<line x1="108.9" y1="579.9" x2="108.9" y2="759.0" stroke="#bebebe" stroke-width="1.2"/>
<line x1="161.4" y1="579.9" x2="161.4" y2="759.0" stroke="#bebebe" stroke-width="1.2"/>
<line x1="213.8" y1="579.9" x2="213.8" y2="759.0" stroke="#bebebe" stroke-width="1.2"/>
<line x1="266.3" y1="579.9" x2="266.3" y2="759.0" stroke="#bebebe" stroke-width="1.2"/>
<line x1="56.5" y1="611.5" x2="318.7" y2="611.5" stroke="#bebebe" stroke-width="1.2"/>
<line x1="56.5" y1="658.1" x2="318.7" y2="658.1" stroke="#bebebe" stroke-width="1.2"/>
<line x1="56.5" y1="704.8" x2="318.7" y2="704.8" stroke="#bebebe" stroke-width="1.2"/>
<line x1="56.5" y1="751.5" x2="318.7" y2="751.5" stroke="#bebebe" stroke-width="1.2"/>
<line x1="56.5" y1="705" x2="318.7" y2="705" stroke="#333" stroke-width="1.6" stroke-dasharray="4.55 1.75"/>
<path d="M56.5 704.8L83.1 702.3L116.3 699.6L160.0 696.3L190.0 693.2L225.8 689.7L271.6 686.0L318.7 681.4" fill="none" stroke="#0000ff" stroke-width="2" stroke-linejoin="round"/>
<path d="M56.5 704.8L61.0 700.8L66.6 697.0L74.0 693.0L83.1 689.0L99.7 682.4L116.3 677.1L132.8 670.5L149.4 664.9L160.0 660.5L166.6 657.0L176.5 652.4L183.1 648.0L191.4 641.4L199.7 637.1L213.0 633.1L232.8 626.5L249.4 619.2L260.0 614.9L271.7 609.8L288.3 603.7L299.2 599.2L305.5 596.2L311.5 592.8L318.7 587.9" fill="none" stroke="#008000" stroke-width="2" stroke-linejoin="round"/>
<path d="M56.5 704.8L70.0 705.6L83.1 707.3L99.7 710.6L116.3 713.6L132.8 717.9L144.4 720.2L155.4 722.3L176.5 725.3L190.0 727.8L214.3 731.8L239.5 736.4L267.0 741.9L294.5 745.5L310.5 748.8L318.7 751.5" fill="none" stroke="#ff0000" stroke-width="2" stroke-linejoin="round"/>
<rect x="56.5" y="579.9" width="262.2" height="179.1" fill="none" stroke="#111" stroke-width="1.2"/>
<line x1="56.5" y1="759.0" x2="56.5" y2="762.7" stroke="#000" stroke-width="1"/>
<text x="56.5" y="776.8" font-family="Liberation Sans, sans-serif" font-size="13.2" text-anchor="middle" fill="#000" stroke="#000" stroke-width="0.18" textLength="18.0" lengthAdjust="spacingAndGlyphs">0.0</text>
<line x1="108.9" y1="759.0" x2="108.9" y2="762.7" stroke="#000" stroke-width="1"/>
<text x="108.9" y="776.8" font-family="Liberation Sans, sans-serif" font-size="13.2" text-anchor="middle" fill="#000" stroke="#000" stroke-width="0.18" textLength="18.0" lengthAdjust="spacingAndGlyphs">0.2</text>
<line x1="161.4" y1="759.0" x2="161.4" y2="762.7" stroke="#000" stroke-width="1"/>
<text x="161.4" y="776.8" font-family="Liberation Sans, sans-serif" font-size="13.2" text-anchor="middle" fill="#000" stroke="#000" stroke-width="0.18" textLength="18.0" lengthAdjust="spacingAndGlyphs">0.4</text>
<line x1="213.8" y1="759.0" x2="213.8" y2="762.7" stroke="#000" stroke-width="1"/>
<text x="213.8" y="776.8" font-family="Liberation Sans, sans-serif" font-size="13.2" text-anchor="middle" fill="#000" stroke="#000" stroke-width="0.18" textLength="18.0" lengthAdjust="spacingAndGlyphs">0.6</text>
<line x1="266.3" y1="759.0" x2="266.3" y2="762.7" stroke="#000" stroke-width="1"/>
<text x="266.3" y="776.8" font-family="Liberation Sans, sans-serif" font-size="13.2" text-anchor="middle" fill="#000" stroke="#000" stroke-width="0.18" textLength="18.0" lengthAdjust="spacingAndGlyphs">0.8</text>
<line x1="318.7" y1="759.0" x2="318.7" y2="762.7" stroke="#000" stroke-width="1"/>
<text x="318.7" y="776.8" font-family="Liberation Sans, sans-serif" font-size="13.2" text-anchor="middle" fill="#000" stroke="#000" stroke-width="0.18" textLength="18.0" lengthAdjust="spacingAndGlyphs">1.0</text>
<line x1="52.8" y1="611.5" x2="56.5" y2="611.5" stroke="#000" stroke-width="1"/>
<text x="48.0" y="615.7" font-family="Liberation Sans, sans-serif" font-size="13.2" text-anchor="end" fill="#000" stroke="#000" stroke-width="0.18" textLength="7.2" lengthAdjust="spacingAndGlyphs">4</text>
<line x1="52.8" y1="658.1" x2="56.5" y2="658.1" stroke="#000" stroke-width="1"/>
<text x="48.0" y="662.3" font-family="Liberation Sans, sans-serif" font-size="13.2" text-anchor="end" fill="#000" stroke="#000" stroke-width="0.18" textLength="7.2" lengthAdjust="spacingAndGlyphs">2</text>
<line x1="52.8" y1="704.8" x2="56.5" y2="704.8" stroke="#000" stroke-width="1"/>
<text x="48.0" y="709.0" font-family="Liberation Sans, sans-serif" font-size="13.2" text-anchor="end" fill="#000" stroke="#000" stroke-width="0.18" textLength="7.2" lengthAdjust="spacingAndGlyphs">0</text>
<line x1="52.8" y1="751.5" x2="56.5" y2="751.5" stroke="#000" stroke-width="1"/>
<line x1="31.6" y1="752.1" x2="38.3" y2="752.1" stroke="#000" stroke-width="1.1"/>
<text x="48.0" y="755.7" font-family="Liberation Sans, sans-serif" font-size="13.2" text-anchor="end" fill="#000" stroke="#000" stroke-width="0.18" textLength="7.0" lengthAdjust="spacingAndGlyphs">2</text>
<text x="316.6" y="609.8" font-family="Liberation Sans, sans-serif" font-size="13.2" text-anchor="end" fill="#008000" stroke="#008000" stroke-width="0.18" textLength="16.5" lengthAdjust="spacingAndGlyphs">+5</text>
<text x="315.0" y="678.6" font-family="Liberation Sans, sans-serif" font-size="13.2" text-anchor="end" fill="#0000ff" stroke="#0000ff" stroke-width="0.18" textLength="16.0" lengthAdjust="spacingAndGlyphs">+1</text>
<text x="317.4" y="745.2" font-family="Liberation Sans, sans-serif" font-size="13.2" text-anchor="end" fill="#ff0000" stroke="#ff0000" stroke-width="0.18" textLength="11.0" lengthAdjust="spacingAndGlyphs">-2</text>
<text x="186.5" y="785.0" font-family="Liberation Sans, sans-serif" font-size="13.2" text-anchor="middle" fill="#000" stroke="#000" stroke-width="0.18" textLength="6.3" lengthAdjust="spacingAndGlyphs">s</text>
<g transform="translate(13.0 704.0) rotate(-90)">
<path d="M0.4 -1.1C0.9 0.1 2.0 -0.2 2.5 -1.9L4.2 -7.7L6.9 -0.1L9.0 -6.4C9.5 -7.9 10.5 -8.4 11.3 -7.5" fill="none" stroke="#000" stroke-width="1.05" stroke-linecap="round" stroke-linejoin="round"/><path d="M4.2 -7.7L6.9 -0.1" fill="none" stroke="#000" stroke-width="1.5" stroke-linecap="round"/><circle cx="0.5" cy="-1.2" r="0.75" fill="#000"/>
<text x="11.7" y="0" font-family="Liberation Sans, sans-serif" font-size="13" textLength="14.0" lengthAdjust="spacingAndGlyphs">(s)</text>
<line x1="28.8" y1="-4.0" x2="38.2" y2="-4.0" stroke="#000" stroke-width="1.1"/>
<g transform="translate(41.5 0)"><path d="M0.4 -1.1C0.9 0.1 2.0 -0.2 2.5 -1.9L4.2 -7.7L6.9 -0.1L9.0 -6.4C9.5 -7.9 10.5 -8.4 11.3 -7.5" fill="none" stroke="#000" stroke-width="1.05" stroke-linecap="round" stroke-linejoin="round"/><path d="M4.2 -7.7L6.9 -0.1" fill="none" stroke="#000" stroke-width="1.5" stroke-linecap="round"/><circle cx="0.5" cy="-1.2" r="0.75" fill="#000"/></g>
<text x="53.2" y="0" font-family="Liberation Sans, sans-serif" font-size="13" textLength="15.0" lengthAdjust="spacingAndGlyphs">(0)</text>
</g>
<rect x="62.2" y="585.6" width="59.2" height="73.7" rx="2.5" fill="#fff" stroke="#000" stroke-width="1.25"/>
<text x="67.3" y="599.6" font-family="Liberation Sans, sans-serif" font-size="13.5" text-anchor="start" fill="#000" stroke="#000" stroke-width="0.18" textLength="48.0" lengthAdjust="spacingAndGlyphs">element</text>
<line x1="66.2" y1="612.7" x2="91.8" y2="612.7" stroke="#0000ff" stroke-width="1.8"/>
<line x1="66.2" y1="630.2" x2="91.8" y2="630.2" stroke="#008000" stroke-width="1.8"/>
<line x1="66.2" y1="647.9" x2="91.8" y2="647.9" stroke="#ff0000" stroke-width="1.8"/>
<text x="100.4" y="616.8" font-family="Liberation Sans, sans-serif" font-size="13.2" text-anchor="start" fill="#000" stroke="#000" stroke-width="0.18" textLength="9.5" lengthAdjust="spacingAndGlyphs">Li</text>
<text x="100.4" y="634.6" font-family="Liberation Sans, sans-serif" font-size="13.2" text-anchor="start" fill="#000" stroke="#000" stroke-width="0.18" textLength="15.8" lengthAdjust="spacingAndGlyphs">Nb</text>
<text x="100.2" y="652.4" font-family="Liberation Sans, sans-serif" font-size="13.2" text-anchor="start" fill="#000" stroke="#000" stroke-width="0.18" textLength="9.8" lengthAdjust="spacingAndGlyphs">O</text>
<g stroke="#555" stroke-width="0.6" fill="none">
<path d="M209.9 636.5L265.6 635.5L292.7 623.3L236.5 624.5ZM265.6 635.5L264.6 664.7L236.4 676.3M292.7 623.3L264.6 664.7M209.9 636.5L182 676.5L236.4 676.3M198.3 664.9L264.6 664.7M236.4 676.3L209.9 636.5"/>
</g>
<circle cx="223.2" cy="650.5" r="6.3" fill="url(#gr)"/>
<circle cx="251.3" cy="655.4" r="5.5" fill="url(#gr)"/>
<circle cx="261.3" cy="638.4" r="15.3" fill="url(#gg)"/>
<circle cx="241.8" cy="631.4" r="6.6" fill="url(#gr)"/>
<circle cx="238.7" cy="649.2" r="13.8" fill="url(#gb)"/>
<circle cx="230.2" cy="643.5" r="6.6" fill="url(#gr)"/>
<circle cx="256.1" cy="646.9" r="6.6" fill="url(#gr)"/>
<circle cx="238.6" cy="666.8" r="6.6" fill="url(#gr)"/>
<circle cx="206.6" cy="665.5" r="15.0" fill="url(#gg)"/>
<circle cx="182.7" cy="677.3" r="14.1" fill="url(#gb)"/>
</svg>
</body></html>
